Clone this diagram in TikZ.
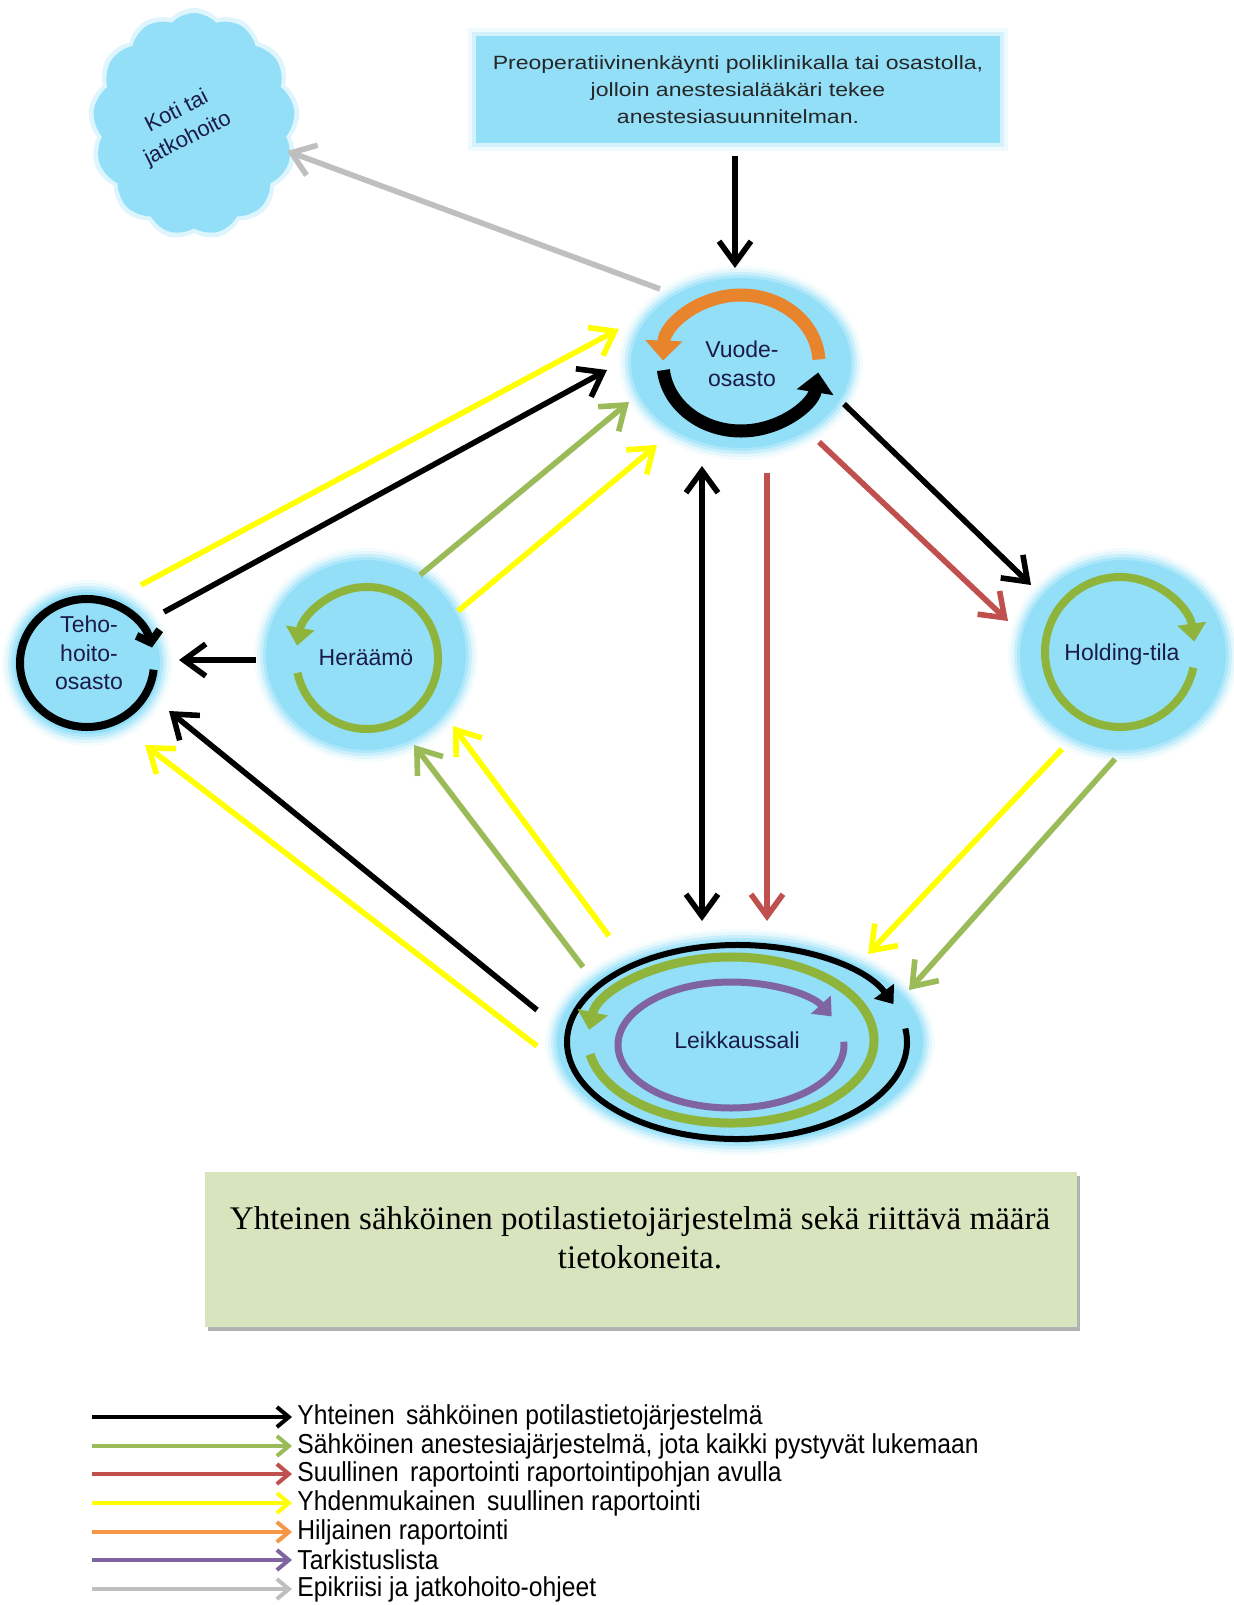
\documentclass[tikz,border=0pt]{standalone}
\usepackage{fontspec}
\setmainfont{Liberation Serif}
\newfontfamily\nodefont{Liberation Sans}
\newfontfamily\widefont[FakeStretch=1.2]{Liberation Sans}
\newfontfamily\legfont[FakeStretch=0.9]{Liberation Sans}
\usetikzlibrary{arrows.meta,shapes.symbols,shapes.geometric,shadows}
\definecolor{skyb}{HTML}{93DFF8}
\definecolor{agreen}{HTML}{9BBB59}
\definecolor{rgreen}{HTML}{8FB43C}
\definecolor{ared}{HTML}{C0504D}
\definecolor{ayellow}{HTML}{FFFF00}
\definecolor{aorange}{HTML}{F79646}
\definecolor{oarc}{HTML}{E8842C}
\definecolor{apurple}{HTML}{8064A2}
\definecolor{agrey}{HTML}{BFBFBF}
\definecolor{boxgreen}{HTML}{D7E4BD}
\definecolor{navy}{HTML}{1B1B45}
\newcommand\glowell[4]{%
  \foreach \d/\o in {12/0.10,9/0.18,6/0.3,3/0.5}{%
    \pgfmathsetmacro\rxx{#3+\d}\pgfmathsetmacro\ryy{#4+\d}%
    \fill[skyb,opacity=\o] (#1,#2) ellipse [x radius=\rxx, y radius=\ryy];}%
  \fill[skyb] (#1,#2) ellipse [x radius=#3, y radius=#4];}
\begin{document}
\begin{tikzpicture}[x=0.5pt,y=0.5pt,
  arr/.style={line width=2.8pt,-{Straight Barb[length=11pt,width=16pt]}},
  dblarr/.style={line width=2.8pt,{Straight Barb[length=11pt,width=16pt]}-{Straight Barb[length=11pt,width=16pt]}},
  legarr/.style={line width=2pt,-{Straight Barb[length=6pt,width=10pt]}},
  ntext/.style={font={\nodefont\fontsize{11.5}{14.5}\selectfont},text=navy,align=center,inner sep=0pt},
  legtext/.style={font={\legfont\fontsize{13.7}{16}\selectfont},text=black,anchor=west,inner sep=0pt},
  shapenode/.style={ellipse,inner sep=0pt},
  cloudshape/.style={cloud, cloud puffs=13, cloud puff arc=95, aspect=0.92, inner sep=0pt}
]
\useasboundingbox (0,0) rectangle (1234,-1605);

% ---------- cloud ----------
\node[cloudshape, fill=skyb, opacity=0.3, minimum width=106pt, minimum height=116pt] (kotiglow) at (194,-124) {};
\node[cloudshape, fill=skyb, minimum width=101pt, minimum height=111pt] (koti) at (194,-124) {};
\node[ntext, rotate=27, font={\nodefont\fontsize{11}{14}\selectfont}] (kotitxt1) at (176,-110) {Koti tai};
\node[ntext, rotate=27, font={\nodefont\fontsize{11}{14}\selectfont}] (kotitxt2) at (188,-139) {jatkohoito};

% ---------- top box ----------
\fill[skyb,opacity=0.15] (468,-28) rectangle (1008,-151);
\fill[skyb,opacity=0.3] (472,-32) rectangle (1004,-147);
\node[fill=skyb, minimum width=262pt, minimum height=53.5pt, inner sep=0pt,
  font={\widefont\fontsize{9.6}{13.5}\selectfont}, text=black!85, align=center] (pre) at (738,-89.5)
  {Preoperatiivinenkäynti poliklinikalla tai osastolla,\\jolloin anestesialääkäri tekee\\anestesiasuunnitelman.};

% ---------- glows ----------
\glowell{741}{-363}{110}{85}
\glowell{366}{-655}{100}{95}
\glowell{1123}{-655}{103}{95}
\glowell{87}{-663}{73}{71}
\glowell{740}{-1042}{183}{101}

\node[shapenode, minimum width=112pt, minimum height=87pt] (vuode) at (741,-363) {};
\node[shapenode, minimum width=102pt, minimum height=97pt] (heraamo) at (366,-655) {};
\node[shapenode, minimum width=105pt, minimum height=97pt] (holding) at (1123,-655) {};
\node[shapenode, minimum width=74pt, minimum height=72pt] (teho) at (87,-663) {};
\node[shapenode, minimum width=185pt, minimum height=103pt] (leik) at (740,-1042) {};

% ---------- inner cyclic arrows ----------
\coordinate (vc) at (741,-363);
\draw[oarc, line width=6.5pt, -{Triangle[length=10pt,width=18pt]}]
  ([shift={(3:78 and 68)}]vc) arc[start angle=3, end angle=178, x radius=78, y radius=68];
\draw[black, line width=6.5pt, -{Triangle[length=10pt,width=18pt]}]
  ([shift={(186:78 and 68)}]vc) arc[start angle=186, end angle=352, x radius=78, y radius=68];

\coordinate (tc) at (87,-663);
\draw[black, line width=4pt, -{Straight Barb[length=5pt,width=12pt]}]
  ([shift={(-6:67 and 64)}]tc) arc[start angle=-6, end angle=-346, x radius=67, y radius=64];

\coordinate (hc) at (367,-658);
\draw[rgreen, line width=4pt, -{Triangle[length=9pt,width=14pt]}]
  ([shift={(192:71 and 71)}]hc) arc[start angle=192, end angle=530, x radius=71, y radius=71];

\coordinate (gc) at (1120,-652);
\draw[rgreen, line width=4pt, -{Triangle[length=9pt,width=14pt]}]
  ([shift={(-12:75 and 75)}]gc) arc[start angle=-12, end angle=-352, x radius=75, y radius=75];

\coordinate (lc1) at (737,-1042);
\coordinate (lc2) at (731,-1040);
\coordinate (lc3) at (731,-1045);
\draw[black, line width=3pt, -{Triangle[length=8pt,width=12pt]}]
  ([shift={(8:170 and 97)}]lc1) arc[start angle=8, end angle=-337, x radius=170, y radius=97];
\draw[rgreen, line width=4.5pt, -{Triangle[length=9pt,width=15pt]}]
  ([shift={(190:143 and 83)}]lc2) arc[start angle=190, end angle=533, x radius=143, y radius=83];
\draw[apurple, line width=3.5pt, -{Triangle[length=8pt,width=13pt]}]
  ([shift={(3:113 and 63)}]lc3) arc[start angle=3, end angle=-333, x radius=113, y radius=63];

% ---------- node texts ----------
\node[ntext] (vuodetxt) at (742,-364) {Vuode-\\osasto};
\node[ntext] (heraamotxt) at (366,-658) {Heräämö};
\node[ntext] (holdingtxt) at (1122,-655) {Holding-tila};
\node[ntext, font={\nodefont\fontsize{11.5}{14.3}\selectfont}] (tehotxt) at (89,-653) {Teho-\\hoito-\\osasto};
\node[ntext] (leiktxt) at (737,-1040) {Leikkaussali};

% ---------- connector end points ----------
\coordinate (a1s) at (735,-156);  \coordinate (a1e) at (735,-268);
\coordinate (a2s) at (660,-289);  \coordinate (a2e) at (287,-151);
\coordinate (a3s) at (141,-585);  \coordinate (a3e) at (619,-329);
\coordinate (a4s) at (164,-612);  \coordinate (a4e) at (607,-370);
\coordinate (a5s) at (420,-575);  \coordinate (a5e) at (629,-402);
\coordinate (a6s) at (458,-611);  \coordinate (a6e) at (657,-445);
\coordinate (a7s) at (702,-466);  \coordinate (a7e) at (702,-921);
\coordinate (a8s) at (767,-473);  \coordinate (a8e) at (767,-921);
\coordinate (a9s) at (819,-442);  \coordinate (a9e) at (1008,-621);
\coordinate (a10s) at (844,-404); \coordinate (a10e) at (1031,-585);
\coordinate (a11s) at (256,-660); \coordinate (a11e) at (179,-660);
\coordinate (a12s) at (537,-1046); \coordinate (a12e) at (145,-745);
\coordinate (a13s) at (537,-1010); \coordinate (a13e) at (169,-711);
\coordinate (a14s) at (583,-967); \coordinate (a14e) at (414,-745);
\coordinate (a15s) at (609,-936); \coordinate (a15e) at (453,-726);
\coordinate (a16s) at (1062,-749); \coordinate (a16e) at (868,-954);
\coordinate (a17s) at (1115,-759); \coordinate (a17e) at (909,-990);

% ---------- connectors ----------
\draw[arr, black] (a1s) -- (a1e);
\draw[arr, agrey] (a2s) -- (a2e);
\draw[arr, ayellow] (a3s) -- (a3e);
\draw[arr, black] (a4s) -- (a4e);
\draw[arr, agreen] (a5s) -- (a5e);
\draw[arr, ayellow] (a6s) -- (a6e);
\draw[dblarr, black] (a7s) -- (a7e);
\draw[arr, ared] (a8s) -- (a8e);
\draw[arr, ared] (a9s) -- (a9e);
\draw[arr, black] (a10s) -- (a10e);
\draw[arr, black] (a11s) -- (a11e);
\draw[arr, ayellow] (a12s) -- (a12e);
\draw[arr, black] (a13s) -- (a13e);
\draw[arr, agreen] (a14s) -- (a14e);
\draw[arr, ayellow] (a15s) -- (a15e);
\draw[arr, ayellow] (a16s) -- (a16e);
\draw[arr, agreen] (a17s) -- (a17e);

% ---------- bottom box ----------
\node[fill=boxgreen, minimum width=436pt, minimum height=77.5pt, inner sep=0pt,
  drop shadow={shadow xshift=1.5pt, shadow yshift=-2pt, fill=black!60, opacity=0.5}] (sysbox) at (641,-1249.5) {};
\node[font={\fontsize{16.5}{19.5}\selectfont}, align=center, inner sep=0pt] (systxt) at (640,-1238)
  {Yhteinen sähköinen potilastietojärjestelmä sekä riittävä määrä\\tietokoneita.};

% ---------- legend ----------
\coordinate (l1a) at (92,-1417);  \coordinate (l1b) at (292,-1417);
\coordinate (l2a) at (92,-1446);  \coordinate (l2b) at (292,-1446);
\coordinate (l3a) at (92,-1474);  \coordinate (l3b) at (292,-1474);
\coordinate (l4a) at (92,-1503);  \coordinate (l4b) at (292,-1503);
\coordinate (l5a) at (92,-1532);  \coordinate (l5b) at (292,-1532);
\coordinate (l6a) at (92,-1560);  \coordinate (l6b) at (292,-1560);
\coordinate (l7a) at (92,-1589);  \coordinate (l7b) at (292,-1589);
\draw[legarr, black] (l1a) -- (l1b);
\draw[legarr, agreen] (l2a) -- (l2b);
\draw[legarr, ared] (l3a) -- (l3b);
\draw[legarr, ayellow] (l4a) -- (l4b);
\draw[legarr, aorange] (l5a) -- (l5b);
\draw[legarr, apurple] (l6a) -- (l6b);
\draw[legarr, agrey] (l7a) -- (l7b);
\node[legtext] (t1) at (297,-1417) {Yhteinen\, sähköinen potilastietojärjestelmä};
\node[legtext] (t2) at (297,-1446) {Sähköinen anestesiajärjestelmä, jota kaikki pystyvät lukemaan};
\node[legtext] (t3) at (297,-1474) {Suullinen\, raportointi raportointipohjan avulla};
\node[legtext] (t4) at (297,-1503) {Yhdenmukainen\, suullinen raportointi};
\node[legtext] (t5) at (297,-1532) {Hiljainen raportointi};
\node[legtext] (t6) at (297,-1560) {Tarkistuslista};
\node[legtext] (t7) at (297,-1589) {Epikriisi ja jatkohoito-ohjeet};
\end{tikzpicture}
\end{document}
